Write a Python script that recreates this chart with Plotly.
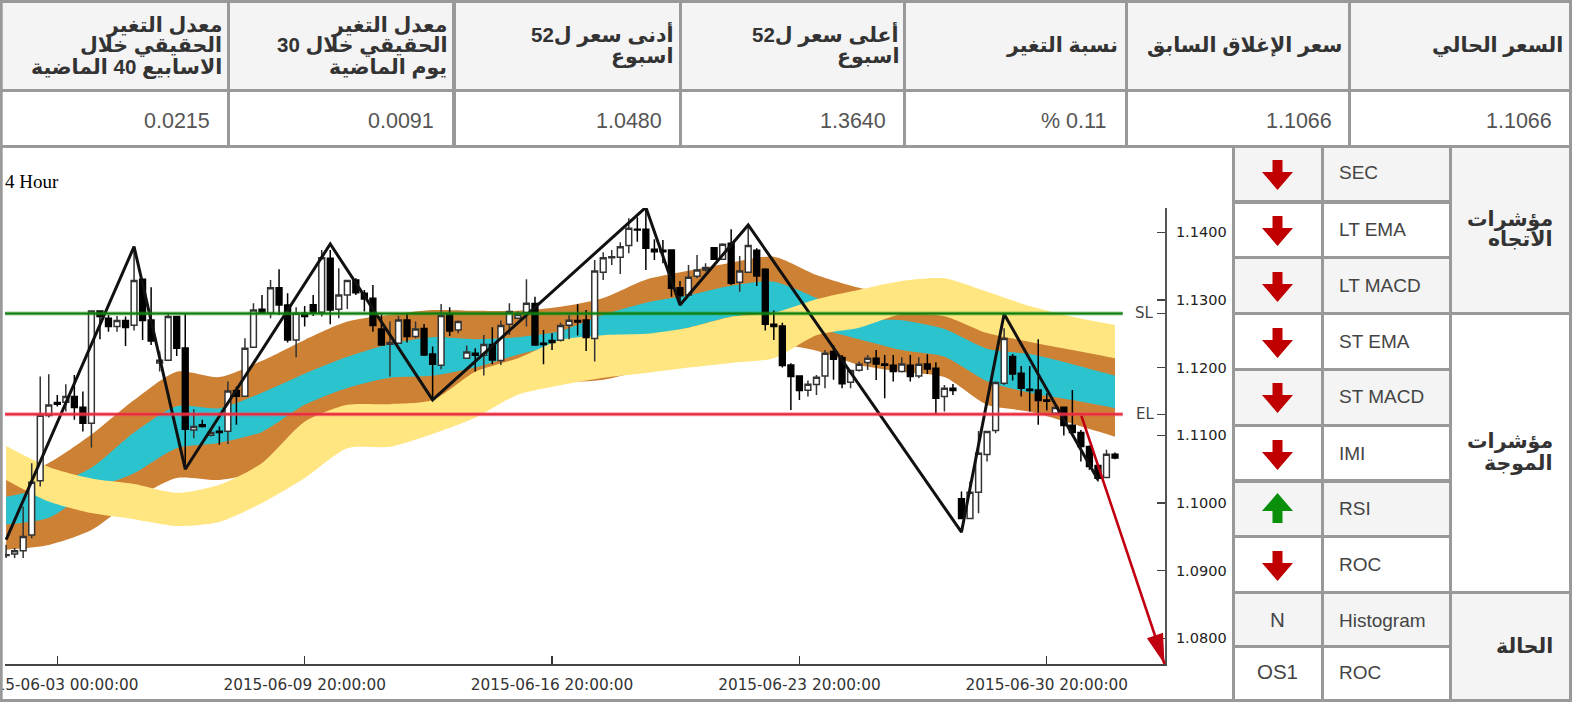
import math
import plotly.graph_objects as go

# ---- data ----
high = [1.09382,1.09333,1.09948,1.10588,1.11868,1.11902,1.11597,1.11755,1.11892,1.11646,
1.12843,1.12843,1.12779,1.12764,1.12754,1.13739,1.13305,1.13187,1.12237,1.12803,
1.12764,1.12803,1.11385,1.11228,1.11080,1.11129,1.11794,1.11720,1.12434,1.12951,
1.13074,1.13296,1.13453,1.13099,1.12892,1.12912,1.13074,1.13739,1.13739,1.13468,
1.13296,1.13320,1.13148,1.13222,1.12803,1.12680,1.12764,1.12803,1.12680,1.12646,
1.12311,1.12941,1.12892,1.12695,1.12326,1.12286,1.12483,1.12596,1.12695,1.12951,
1.12828,1.13305,1.13049,1.12557,1.12508,1.12665,1.12779,1.12936,1.12852,1.13591,
1.13704,1.13739,1.13852,1.14206,1.14221,1.14379,1.13896,1.13886,1.13739,1.13281,
1.13517,1.13665,1.13542,1.13773,1.13837,1.14044,1.13650,1.14108,1.13763,1.13468,
1.12843,1.12665,1.12065,1.11878,1.11809,1.11892,1.12262,1.12335,1.12188,1.11966,
1.12089,1.12188,1.12262,1.12188,1.12188,1.12153,1.12188,1.12153,1.12198,1.12079,
1.11745,1.11759,1.10169,1.10317,1.11065,1.11055,1.11794,1.12582,1.12202,1.12025,
1.12025,1.12419,1.11622,1.11415,1.11425,1.11671,1.11080,1.10849,1.10563,1.10785,1.10745]
open_ = [1.09224,1.09244,1.09293,1.09525,1.10327,1.11292,1.11484,1.11489,1.11572,1.11415,
1.11179,1.12838,1.12729,1.12606,1.12695,1.12626,1.13305,1.12705,1.12070,1.12109,
1.12754,1.12291,1.11080,1.11154,1.11001,1.11060,1.11060,1.11661,1.11577,1.12301,
1.12862,1.12803,1.13182,1.12926,1.12409,1.12803,1.12931,1.12818,1.13616,1.12862,
1.13074,1.13296,1.13099,1.13025,1.12572,1.12345,1.12360,1.12705,1.12459,1.12577,
1.12203,1.12035,1.12788,1.12557,1.12139,1.12212,1.12183,1.12340,1.12104,1.12641,
1.12729,1.12813,1.12946,1.12360,1.12400,1.12404,1.12626,1.12695,1.12705,1.12429,
1.13409,1.13625,1.13630,1.13803,1.14044,1.14044,1.13748,1.13734,1.13739,1.13182,
1.13074,1.13350,1.13443,1.13773,1.13601,1.13837,1.13261,1.13409,1.13734,1.13453,
1.12641,1.12616,1.12040,1.11878,1.11666,1.11750,1.11878,1.12237,1.12148,1.11784,
1.11961,1.12074,1.12138,1.12055,1.12035,1.11942,1.12035,1.11878,1.12055,1.11991,
1.11572,1.11695,1.10061,1.09770,1.10159,1.10716,1.11070,1.11769,1.12163,1.11917,
1.11681,1.11671,1.11523,1.11326,1.11415,1.11149,1.11041,1.10834,1.10553,1.10376,1.10721]
close = [1.09234,1.09293,1.09505,1.10307,1.11297,1.11449,1.11459,1.11572,1.11410,1.11179,
1.12838,1.12754,1.12606,1.12695,1.12592,1.13286,1.12695,1.12395,1.12109,1.12754,
1.12286,1.11090,1.11129,1.11129,1.11041,1.11041,1.11656,1.11577,1.12286,1.12852,
1.12803,1.13182,1.12926,1.12409,1.12803,1.12754,1.12813,1.13625,1.12852,1.13074,
1.13286,1.13108,1.13015,1.12621,1.12336,1.12370,1.12705,1.12459,1.12572,1.12188,
1.12050,1.12769,1.12542,1.12680,1.12232,1.12183,1.12340,1.12114,1.12621,1.12828,
1.12784,1.12951,1.12336,1.12340,1.12370,1.12621,1.12700,1.12675,1.12444,1.13428,
1.13625,1.13640,1.13788,1.14059,1.14034,1.13763,1.13714,1.13714,1.13172,1.13064,
1.13335,1.13443,1.13478,1.13601,1.13822,1.13246,1.13428,1.13803,1.13355,1.12641,
1.12606,1.12030,1.11868,1.11661,1.11755,1.11858,1.12212,1.12124,1.11760,1.11956,
1.12050,1.12138,1.12055,1.12035,1.11942,1.12055,1.11868,1.12050,1.11981,1.11548,
1.11695,1.11661,1.09770,1.10159,1.10735,1.11055,1.11779,1.12429,1.11907,1.11695,
1.11661,1.11513,1.11503,1.11410,1.11144,1.11041,1.10834,1.10538,1.10366,1.10721,1.10666]
low = [1.09185,1.09185,1.09185,1.09480,1.10243,1.11262,1.11425,1.11351,1.11228,1.11056,
1.10819,1.12419,1.12532,1.12532,1.12321,1.12547,1.12409,1.12336,1.11942,1.12104,
1.12173,1.10514,1.10957,1.11115,1.10982,1.10859,1.10873,1.11154,1.11572,1.12296,
1.12803,1.12729,1.12779,1.12370,1.12153,1.12606,1.12764,1.12754,1.12641,1.12729,
1.12867,1.13074,1.12828,1.12532,1.12336,1.11868,1.12355,1.12370,1.12434,1.12173,
1.11548,1.11976,1.12468,1.12508,1.12134,1.11942,1.11883,1.12050,1.12040,1.12483,
1.12720,1.12606,1.12336,1.12050,1.12262,1.12385,1.12419,1.12473,1.12247,1.12089,
1.13295,1.13517,1.13384,1.13689,1.13862,1.13443,1.13591,1.13542,1.13049,1.12951,
1.13064,1.13320,1.13419,1.13601,1.13591,1.13222,1.13123,1.13404,1.13207,1.12547,
1.12409,1.12001,1.11375,1.11523,1.11572,1.11597,1.11696,1.11819,1.11696,1.11696,
1.11942,1.11966,1.11818,1.11548,1.11794,1.11927,1.11794,1.11843,1.11907,1.11316,
1.11351,1.11597,1.09761,1.09770,1.09849,1.10612,1.11031,1.11745,1.11809,1.11572,
1.11351,1.11154,1.11366,1.11302,1.10996,1.11021,1.10612,1.10489,1.10317,1.10371,1.10647]

band_index = [0,5,10,15,20,25,30,35,40,45,50,55,60,65,70,75,80,85,90,95,100,105,110,115,120,125,130]
brown_top = [1.1034,1.1059,1.1101,1.1152,1.1194,1.1186,1.1210,1.1241,1.1268,1.1278,1.1285,1.1284,1.1284,1.1290,1.1303,1.1330,1.1343,1.1355,1.1364,1.1337,1.1318,1.1306,1.1300,1.1282,1.1263,1.1244,1.1234]
cyan_top = [1.1009,1.1024,1.1052,1.1104,1.1143,1.1140,1.1163,1.1191,1.1216,1.1235,1.1245,1.1242,1.1245,1.1254,1.1278,1.1296,1.1307,1.1321,1.1327,1.1303,1.1273,1.1270,1.1257,1.1228,1.1220,1.1205,1.1188]
cyan_bottom = [1.0968,1.0978,1.1019,1.1044,1.1081,1.1089,1.1105,1.1145,1.1170,1.1185,1.1188,1.1200,1.1219,1.1234,1.1241,1.1248,1.1259,1.1275,1.1281,1.1259,1.1242,1.1226,1.1216,1.1180,1.1163,1.1152,1.1140]
brown_bottom = [1.0931,1.0938,1.0960,1.1005,1.1037,1.1034,1.1049,1.1108,1.1140,1.1142,1.1148,1.1157,1.1164,1.1177,1.1182,1.1197,1.1204,1.1216,1.1234,1.1225,1.1204,1.1194,1.1186,1.1145,1.1135,1.1117,1.1098]
yellow_top = [1.1084,1.1053,1.1036,1.1028,1.1015,1.1027,1.1059,1.1120,1.1145,1.1146,1.1152,1.1194,1.1214,1.1241,1.1248,1.1250,1.1259,1.1275,1.1281,1.1301,1.1315,1.1328,1.1332,1.1312,1.1291,1.1275,1.1263]
yellow_bottom = [1.1034,1.1002,1.0985,1.0976,1.0966,1.0972,1.1000,1.1037,1.1081,1.1083,1.1102,1.1126,1.1160,1.1174,1.1185,1.1192,1.1200,1.1207,1.1214,1.1248,1.1259,1.1279,1.1276,1.1251,1.1238,1.1226,1.1214]

zig_index = [0,15,21,38,50,75,79,87,112,117,128]
zig_price = [1.09456,1.13788,1.10499,1.13827,1.11523,1.14369,1.12926,1.14108,1.09569,1.12793,1.10342]

sl_level = 1.1280
el_level = 1.1131
target_from = (126, 1.1131)
target_to = (135.8, 1.0762)

y_ticks = [1.14, 1.13, 1.12, 1.11, 1.10, 1.09, 1.08]
x_tick_index = [6, 35, 64, 93, 122]
x_tick_text = ["2015-06-03 00:00:00", "2015-06-09 20:00:00", "2015-06-16 20:00:00",
               "2015-06-23 20:00:00", "2015-06-30 20:00:00"]

header_lines = [
    ["معدل التغير", "الحقيقي خلال", "الاسابيع 40 الماضية"],
    ["معدل التغير", "الحقيقي خلال 30", "يوم الماضية"],
    ["أدنى سعر ل52", "اسبوع"],
    ["أعلى سعر ل52", "اسبوع"],
    ["نسبة التغير"],
    ["سعر الإغلاق السابق"],
    ["السعر الحالي"],
]
header_values = ["0.0215", "0.0091", "1.0480", "1.3640", "% 0.11", "1.1066", "1.1066"]

panel_labels = ["SEC", "LT EMA", "LT MACD", "ST EMA", "ST MACD", "IMI", "RSI", "ROC", "Histogram", "ROC"]
panel_status = ["down", "down", "down", "down", "down", "down", "up", "down", "N", "OS1"]
group_labels = [(["مؤشرات", "الاتجاه"], [219, 239]),
                (["مؤشرات", "الموجة"], [441, 463]),
                (["الحالة"], [645])]

# ---- page geometry (pixels of the 1572x702 page) ----
W, H = 1572, 702
GRID = "#999999"
SHADE = "#f4f4f4"
AR_FONT = "Liberation Sans, DejaVu Sans, sans-serif"
def px(x): return x / W
def py(y): return 1 - y / H

shapes, ann = [], []

def rect(x0, y0, x1, y1, color):
    shapes.append(dict(type="rect", xref="paper", yref="paper", x0=px(x0), x1=px(x1),
                       y0=py(y0), y1=py(y1), fillcolor=color, line_width=0, layer="above"))

def label(x, y, text, size, color, anchor="right", bold=False, family=AR_FONT):
    ann.append(dict(xref="paper", yref="paper", x=px(x), y=py(y), text=("<b>%s</b>" % text) if bold else text,
                    showarrow=False, xanchor=anchor, yanchor="middle",
                    font=dict(size=size, color=color, family=family)))

# header table
col_lines = [(0, 2.7), (227, 230), (452, 456), (679, 682), (903, 906), (1125, 1128), (1348, 1351), (1569, 1572)]
rect(0, 0, W, 89, SHADE)
header_right = [224, 449, 675, 901, 1120, 1345, 1565]
value_right = [212, 436, 664, 888, 1108, 1334, 1554]
header_y = {1: [45], 2: [34, 56], 3: [25.5, 45.5, 67]}
for c, lines in enumerate(header_lines):
    for ln, yy in zip(lines, header_y[len(lines)]):
        label(header_right[c], yy, ln, 20.5, "#333333", bold=True)
    label(value_right[c], 121, header_values[c], 21.5, "#555555")

# side panel
rows = [(148, 200), (204, 256), (259, 312), (315, 368), (371, 424), (427, 479), (483, 535), (538, 591), (594, 645), (648, 699)]
X0, X1, X2, X3 = 1235, 1321, 1324, 1449
rect(1235, 148, 1569, 699, "#ffffff")
for r, (a, b) in enumerate(rows):
    if r % 2 == 0:
        rect(X0, a, X3, b, SHADE)
rect(1452, 148, 1569, 312, SHADE)
rect(1452, 594, 1569, 699, SHADE)

# grid lines
for a, b in [(0, 3), (89, 92), (145, 148), (699, 702)]:
    rect(0, a, W, b, GRID)
for a, b in col_lines:
    rect(a, 0, b, 148, GRID)
for a, b in [(0, 2.7), (1569, 1572)]:
    rect(a, 148, b, 702, GRID)
for a, b in [(1232, 1235), (1321, 1324), (1449, 1452)]:
    rect(a, 148, b, 702, GRID)
for a, b in [(200, 204), (256, 259), (312, 315), (368, 371), (424, 427), (479, 483), (535, 538), (591, 594), (645, 648)]:
    rect(1232, a, 1449, b, GRID)
for a, b in [(312, 315), (591, 594)]:
    rect(1449, a, 1572, b, GRID)

CX = 1277.5
def arrow_path(cy, up):
    s = -1 if up else 1
    pts = [(-5, -14), (5, -14), (5, -2), (15.5, -2), (0, 16), (-15.5, -2), (-5, -2)]
    p = [(CX + dx, cy + s * dy) for dx, dy in pts]
    d = "M " + " L ".join("%.5f %.5f" % (px(x), py(y)) for x, y in p) + " Z"
    shapes.append(dict(type="path", xref="paper", yref="paper", path=d,
                       fillcolor="#0a8f0a" if up else "#c00000", line_width=0, layer="above"))

label_y = [173, 229, 285, 341, 396, 453, 508, 564, 620, 672]
for r, (lab, st) in enumerate(zip(panel_labels, panel_status)):
    label(1337, label_y[r], lab, 19, "#444444", anchor="left")
    if st == "down":
        arrow_path(label_y[r] + 1, False)
    elif st == "up":
        arrow_path(label_y[r] + 1, True)
    else:
        label(CX - 0.5, label_y[r] - 1, st, 20.5, "#444444", anchor="center")
for lines, ys in group_labels:
    for ln, yy in zip(lines, ys):
        label(1555, yy, ln, 20.5, "#333333", bold=True)

label(2.5, 181, "4 Hour", 19, "#000000", anchor="left", family="Liberation Serif, serif")

# ---- chart ----
idx = list(range(len(close)))
fig = go.Figure()

def band(top, bottom, color):
    smooth = dict(width=0, color=color, shape="spline", smoothing=0.7)
    fig.add_trace(go.Scatter(x=band_index, y=top, mode="lines", line=smooth, hoverinfo="skip", showlegend=False))
    fig.add_trace(go.Scatter(x=band_index, y=bottom, mode="lines", line=smooth, fill="tonexty", fillcolor=color,
                             hoverinfo="skip", showlegend=False))

band(brown_top, brown_bottom, "#cd8135")
band(cyan_top, cyan_bottom, "#2bc3ce")
band(yellow_top, yellow_bottom, "#ffe680")

fig.add_trace(go.Candlestick(x=idx, open=open_, high=high, low=low, close=close, yaxis="y2",
                             whiskerwidth=0,
                             increasing=dict(fillcolor="#ffffff", line=dict(color="#333333", width=1.5)),
                             decreasing=dict(fillcolor="#000000", line=dict(color="#000000", width=1.5)),
                             hoverinfo="skip", showlegend=False))

fig.add_trace(go.Scatter(x=zig_index, y=zig_price, yaxis="y2", mode="lines", cliponaxis=False,
                         line=dict(color="#111111", width=3), hoverinfo="skip", showlegend=False))

line_span = [-0.15, 130.9]
for lvl, halo, col in [(sl_level, "rgba(40,150,40,0.45)", "#0b7d0b"), (el_level, "rgba(240,70,90,0.55)", "#e8283c")]:
    fig.add_trace(go.Scatter(x=line_span, y=[lvl, lvl], yaxis="y2", mode="lines",
                             line=dict(color=halo, width=4), hoverinfo="skip", showlegend=False))
    fig.add_trace(go.Scatter(x=line_span, y=[lvl, lvl], yaxis="y2", mode="lines",
                             line=dict(color=col, width=2), hoverinfo="skip", showlegend=False))

XMIN, XMAX = -0.13, 135.86
YMIN, YMAX = 1.0762, 1.14359
XPP = (XMAX - XMIN) / 1160   # data units per page pixel
YPP = (YMAX - YMIN) / 456

# target arrow: shaft plus a long narrow head built from the target points
ann.append(dict(x=target_to[0], y=target_to[1], ax=target_from[0], ay=target_from[1], xref="x", yref="y",
                axref="x", ayref="y", text="", showarrow=True, arrowhead=0, arrowwidth=2.6,
                arrowcolor="#c00010", standoff=0))
dxp = (target_to[0] - target_from[0]) / XPP
dyp = (target_to[1] - target_from[1]) / YPP
nrm = math.hypot(dxp, dyp)
ux, uy = dxp / nrm, dyp / nrm
HEAD_LEN, HEAD_HALF = 30, 8.5
bx, by = target_to[0] - ux * HEAD_LEN * XPP, target_to[1] - uy * HEAD_LEN * YPP
c1 = (bx - uy * HEAD_HALF * XPP, by + ux * HEAD_HALF * YPP)
c2 = (bx + uy * HEAD_HALF * XPP, by - ux * HEAD_HALF * YPP)
shapes.append(dict(type="path", xref="x", yref="y", layer="above", line_width=0, fillcolor="#c00010",
                   path="M %f %f L %f %f L %f %f Z" % (target_to[0], target_to[1], c1[0], c1[1], c2[0], c2[1])))

for txt, lvl in [("SL", sl_level), ("EL", el_level)]:
    ann.append(dict(x=134.85, y=lvl, xref="x", yref="y", text=txt, showarrow=False, xanchor="right",
                    font=dict(size=15, color="#444444", family="DejaVu Sans")))

ticks_all = y_ticks + [sl_level, el_level]
fig.update_layout(
    width=W, height=H, margin=dict(l=0, r=0, t=0, b=0, pad=0, autoexpand=False), autosize=False,
    boxgap=0.32, boxgroupgap=0,
    paper_bgcolor="#ffffff", plot_bgcolor="#ffffff", showlegend=False, hovermode=False,
    shapes=shapes, annotations=ann,
    xaxis=dict(domain=[px(5), px(1165)], range=[XMIN, XMAX], rangeslider=dict(visible=False), automargin=False,
               tickmode="array", tickvals=x_tick_index, ticktext=x_tick_text, ticks="inside", ticklen=8,
               tickwidth=1.3, tickcolor="#333333", showline=True, linecolor="#444444", linewidth=1.5,
               showgrid=False, zeroline=False, ticklabeloverflow="allow", ticklabelstandoff=6,
               tickangle=0, tickfont=dict(family="DejaVu Sans", size=15.3, color="#333333"), fixedrange=True),
    yaxis=dict(domain=[1 - 664 / H, 1 - 208 / H], range=[YMIN, YMAX], side="right", anchor="x", automargin=False,
               tickmode="array", tickvals=ticks_all, ticktext=["%.4f" % v for v in y_ticks] + ["", ""],
               ticks="inside", ticklen=8, tickwidth=1.3, tickcolor="#444444", showline=True,
               linecolor="#555555", linewidth=2, showgrid=False, zeroline=False, ticklabelstandoff=6,
               tickfont=dict(family="DejaVu Sans", size=14.5, color="#222222"), fixedrange=True),
    yaxis2=dict(domain=[1 - 664 / H, 1 - 208 / H], range=[YMIN, YMAX], overlaying="y", side="right", anchor="x",
                automargin=False, showticklabels=False, ticks="", showline=False, showgrid=False, zeroline=False,
                fixedrange=True),
)

fig.write_html("out.html", config=dict(displayModeBar=False, staticPlot=True),
               post_script="document.body.style.margin='0';document.documentElement.style.overflow='hidden';")
